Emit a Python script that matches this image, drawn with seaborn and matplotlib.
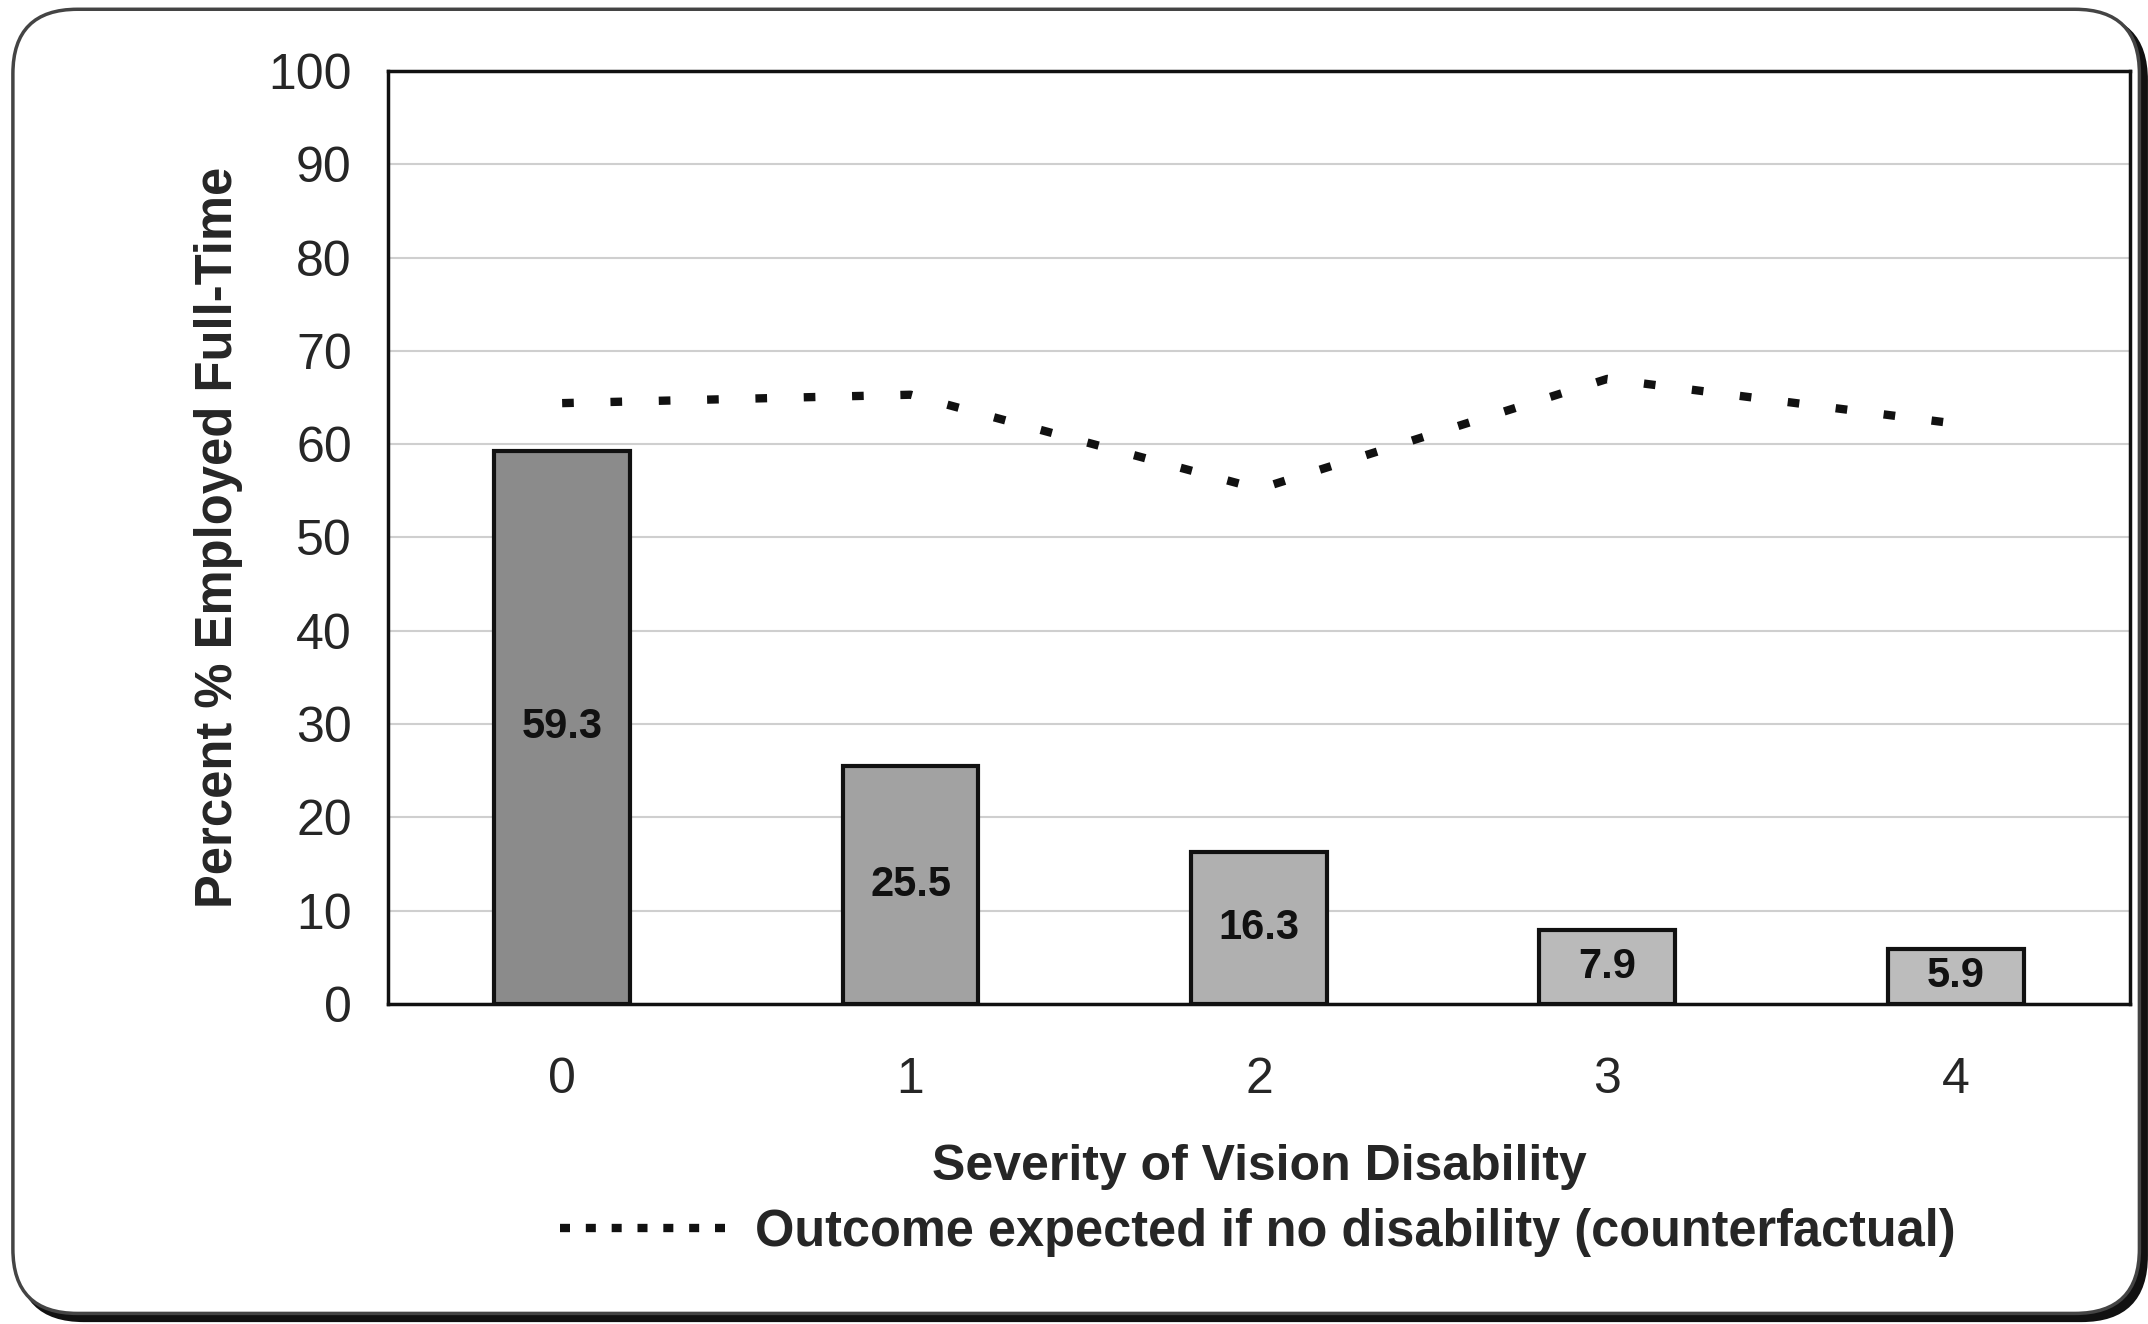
import matplotlib
matplotlib.use("Agg")
import matplotlib.pyplot as plt
import seaborn as sns
import pandas as pd
from matplotlib.patches import FancyBboxPatch
from matplotlib.lines import Line2D
from matplotlib.ticker import FixedLocator

severity = ["0", "1", "2", "3", "4"]
employed = [59.3, 25.5, 16.3, 7.9, 5.9]
counterfactual = [64.4, 65.3, 55.2, 67.0, 62.2]
bar_colors = ["#8b8b8b", "#a2a2a2", "#b0b0b0", "#bababa", "#bcbcbc"]
y_ticks = [0, 10, 20, 30, 40, 50, 60, 70, 80, 90, 100]

sns.set_theme(style="white")
fam = ["Liberation Sans", "DejaVu Sans"]
plt.rcParams["font.family"] = fam

df = pd.DataFrame({"severity": severity, "employed": employed})

fig = plt.figure(figsize=(21.48, 13.24), dpi=100)
fig.patch.set_facecolor("white")

shadow = FancyBboxPatch((0.009, 0.003), 0.99, 0.985, boxstyle="round,pad=0,rounding_size=0.03",
                        transform=fig.transFigure, facecolor="#111111", edgecolor="#111111",
                        linewidth=3, mutation_aspect=2148/1324, zorder=-11)
frame = FancyBboxPatch((0.006, 0.008), 0.99, 0.985, boxstyle="round,pad=0,rounding_size=0.03",
                       transform=fig.transFigure, facecolor="white", edgecolor="#444444",
                       linewidth=2.5, mutation_aspect=2148/1324, zorder=-10)
fig.patches.extend([shadow, frame])

ax = fig.add_axes([0.1806, 0.2417, 0.811, 0.7047])
ax.set_zorder(5)
ax.patch.set_alpha(0)
sns.barplot(data=df, x="severity", y="employed", hue="severity", palette=bar_colors,
            legend=False, width=0.39, edgecolor="#111111", linewidth=3, ax=ax, zorder=3)

sns.lineplot(x=list(range(len(severity))), y=counterfactual, ax=ax, color="#111111",
             linewidth=6, zorder=4)
ax.lines[-1].set_dashes((1.4, 4.4))
ax.lines[-1].set_solid_capstyle("butt")

for i, v in enumerate(employed):
    ax.text(i, v / 2, f"{v}", ha="center", va="center", fontsize=30,
            fontweight="bold", color="#111111", zorder=5, family=fam)

ax.set_xlim(-0.5, 4.5)
ax.set_ylim(0, 100)
ax.set_yticks(y_ticks)
ax.set_yticklabels([str(t) for t in y_ticks], fontsize=36, family=fam)
ax.set_xticks(range(len(severity)))
ax.set_xticklabels(severity, fontsize=36, family=fam)
ax.xaxis.set_minor_locator(FixedLocator([-0.5, 0.5, 1.5, 2.5, 3.5, 4.5]))
ax.tick_params(axis="x", which="major", length=0, pad=38)
ax.tick_params(axis="x", which="minor", length=14, width=2, direction="out", color="#222222")
ax.tick_params(axis="y", length=16, width=2, direction="out", color="#222222", pad=10)
ax.yaxis.grid(True, color="#cfcfcf", linewidth=1.5, zorder=0)
ax.set_axisbelow(True)
for s in ax.spines.values():
    s.set_visible(True)
    s.set_color("#111111")
    s.set_linewidth(2.5)

ax.set_xlabel("Severity of Vision Disability", fontsize=36, fontweight="bold",
              labelpad=30, family=fam)
ax.set_ylabel("Percent % Employed Full-Time", fontsize=36.5, fontweight="bold",
              labelpad=18, family=fam)

handle = Line2D([0], [0], color="#111111", linewidth=6, dashes=(1.2, 1.9))
handle.set_solid_capstyle("butt")
fig.legend([handle], ["Outcome expected if no disability (counterfactual)"],
           loc="center", bbox_to_anchor=(0.5855, 0.069), frameon=False,
           prop={"size": 36.4, "weight": "bold", "family": fam},
           handlelength=3.3, handletextpad=0.55)

fig.savefig("out.png", dpi=100, facecolor="white")
